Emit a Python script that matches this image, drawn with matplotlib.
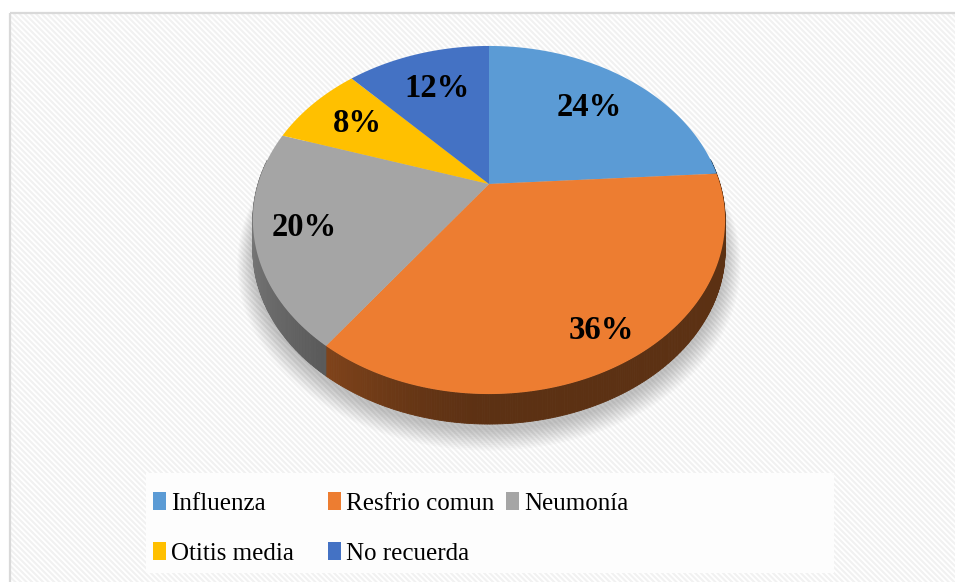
import numpy as np
import matplotlib
matplotlib.use("Agg")
import matplotlib.pyplot as plt
import matplotlib.patches as mp
from matplotlib.colors import to_rgb

labels = ["Influenza", "Resfrio comun", "Neumonía", "Otitis media", "No recuerda"]
values = [24, 36, 20, 8, 12]
colors = ["#5B9BD5", "#ED7D31", "#A5A5A5", "#FFC000", "#4472C4"]
pct_labels = ["24%", "36%", "20%", "8%", "12%"]
label_r = [0.70, 0.85, 0.80, 0.73, 0.70]   # radial position of the labels

plt.rcParams["font.family"] = "serif"
plt.rcParams["font.serif"] = ["Liberation Serif", "DejaVu Serif"]
plt.rcParams["hatch.linewidth"] = 1.5

fig = plt.figure(figsize=(9.55, 5.82), dpi=100)
ax = fig.add_axes([0, 0, 1, 1])
ax.set_xlim(0, 955); ax.set_ylim(582, 0)
ax.axis("off")

# chart area: faint diagonal stripes + light border
ax.add_patch(mp.Rectangle((10, 13), 960, 590, facecolor="white", edgecolor="#f1f1f1",
                          lw=0, hatch="\\\\\\\\\\\\", zorder=0))
ax.add_patch(mp.Rectangle((10, 13), 960, 590, facecolor="none", edgecolor="#d9d9d9",
                          lw=1.6, zorder=0.5))

# pie geometry (perspective-tilted disc)
CX, CY, A, B, K, DEPTH = 489, 184, 166.6, 231, 0.2069, 30


def proj(theta, r=1.0):
    u, v = r * np.sin(theta), r * np.cos(theta)
    d = 1 + K * v
    return CX + B * u / d, CY - A * v / d


frac = np.array(values, dtype=float) / sum(values)
edges = np.concatenate([[0], np.cumsum(frac)]) * 2 * np.pi

# soft shadow
tt = np.linspace(0, 2 * np.pi, 300)
bx, by = proj(tt)
for i in range(12):
    s = 1 + 0.006 * i
    ax.fill(CX + (bx - CX) * s, CY + DEPTH + 6 + (by - CY) * s + i * 0.6,
            color="black", alpha=0.018, lw=0, zorder=1)

# side wall, shaded darker toward the right
for i in range(len(values)):
    base = np.array(to_rgb(colors[i]))
    ts = np.linspace(edges[i], edges[i + 1], max(int(np.degrees(edges[i + 1] - edges[i]) * 2), 2))
    for a, b in zip(ts[:-1], ts[1:]):
        m = 0.5 * (a + b)
        if np.cos(m) > 0.15:
            continue
        f = 0.39 + 0.33 * max(0.0, -np.sin(m)) ** 1.5
        xa, ya = proj(a); xb, yb = proj(b)
        c = np.clip(base * f, 0, 1)
        ax.fill([xa, xb, xb, xa], [ya, yb, yb + DEPTH, ya + DEPTH],
                color=c, ec=c, lw=0.6, zorder=2)

# top faces
for i in range(len(values)):
    ts = np.linspace(edges[i], edges[i + 1], 120)
    px, py = proj(ts)
    ax.fill(np.r_[CX, px], np.r_[CY, py], color=colors[i], lw=0, zorder=3)
    mx, my = proj(0.5 * (edges[i] + edges[i + 1]), label_r[i])
    ax.text(mx, my, pct_labels[i], ha="center", va="center", fontsize=23.5,
            fontweight="bold", color="black", zorder=5)

# legend
ax.add_patch(mp.Rectangle((146, 473), 688, 100, facecolor="#fdfdfd", edgecolor="none", zorder=4))
leg_x = [153, 328, 506, 153, 328]
leg_y = [510, 510, 510, 560, 560]
for i in range(len(labels)):
    ax.add_patch(mp.Rectangle((leg_x[i], leg_y[i] - 18), 13, 18, facecolor=colors[i],
                              edgecolor="none", zorder=5))
    ax.text(leg_x[i] + 18, leg_y[i], labels[i], ha="left", va="baseline", fontsize=18,
            color="black", zorder=5)

fig.savefig("out.png", dpi=100)
